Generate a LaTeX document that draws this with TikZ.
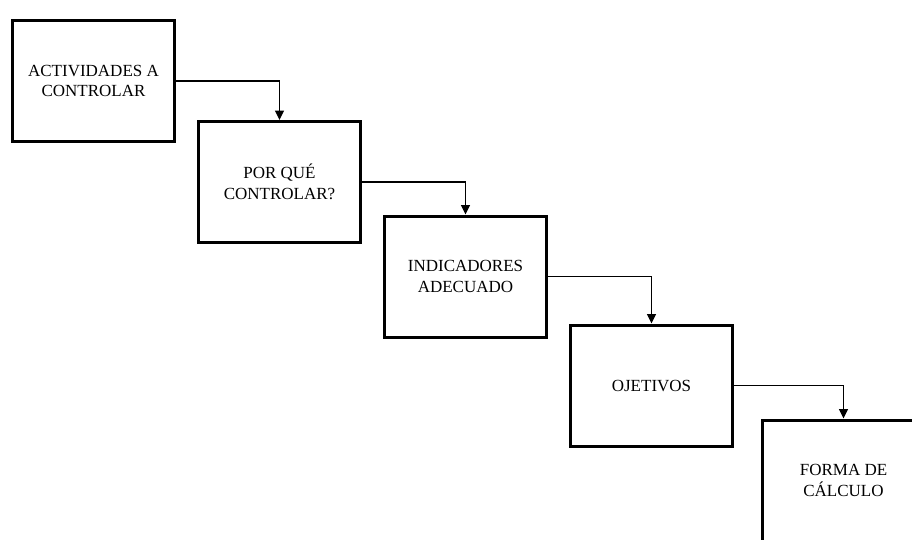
\documentclass[tikz,border=0pt]{standalone}
\usepackage{fontspec}
\setmainfont{Liberation Serif}
\usetikzlibrary{arrows.meta}
\begin{document}
\begin{tikzpicture}[x=1pt,y=-1pt,
  stepbox/.style={draw=black,line width=3pt,fill=white,minimum width=162pt,minimum height=121pt,
    inner sep=0pt,align=center,font=\fontsize{17pt}{20.6pt}\selectfont},
  link/.style={draw=black,line width=1.4pt,-{Triangle[length=9.5pt,width=9pt]}}]
\useasboundingbox (0,0) rectangle (912,539);
\node[stepbox] (a) at (93.5,81) {ACTIVIDADES A\\CONTROLAR};
\node[stepbox] (b) at (279.5,182) {POR QUÉ\\CONTROLAR?};
\node[stepbox] (c) at (465.5,276.5) {INDICADORES\\ADECUADO};
\node[stepbox] (d) at (651.5,385.5) {OJETIVOS};
\node[stepbox] (e) at (843.5,480.5) {FORMA DE\\CÁLCULO};
\draw[link] (a.east) -| (b.north);
\draw[link] (b.east) -| (c.north);
\draw[link] (c.east) -| (d.north);
\draw[link] (d.east) -| (e.north);
\end{tikzpicture}
\end{document}
